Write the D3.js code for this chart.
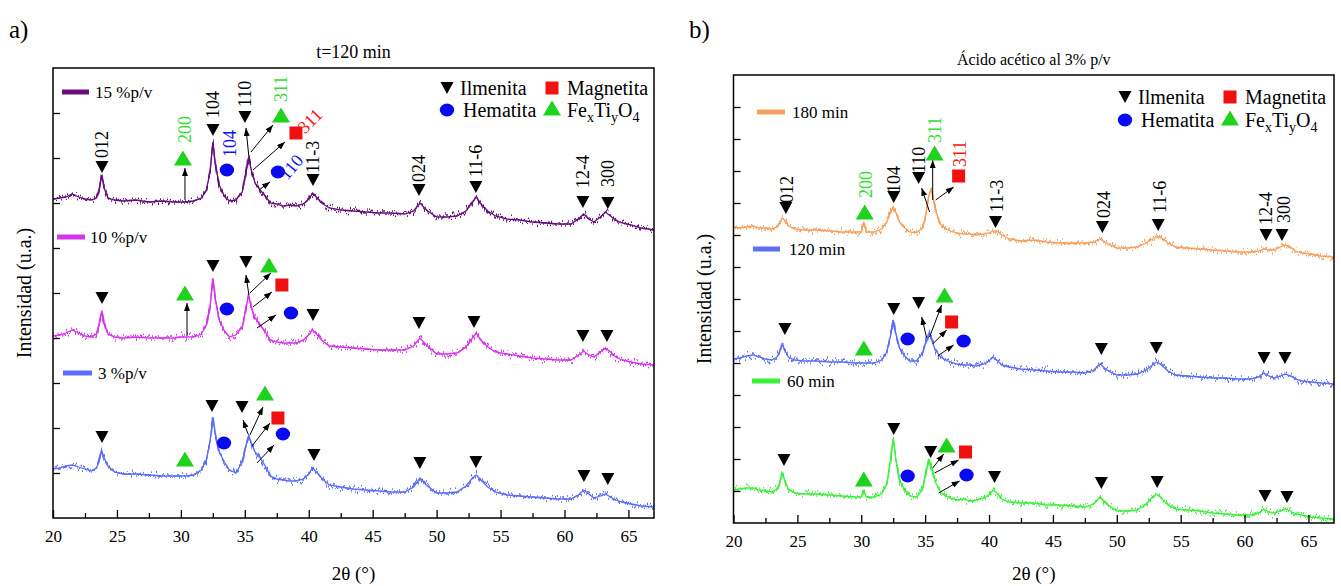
<!DOCTYPE html>
<html><head><meta charset="utf-8">
<script src="https://cdn.jsdelivr.net/npm/d3@7"></script>
<style>
body{margin:0;background:#fff}
svg{display:block}
</style>
</head><body>
<svg id="c" width="1341" height="586" style="font-family:'Liberation Serif','DejaVu Serif','Noto Serif',serif"></svg>
<script>
// ---------- DATA ----------
const twoTheta = [20.0,20.5,21.0,21.5,22.0,22.5,23.0,23.4,23.6,23.8, 24.0,24.3,24.8,25.5,26.5,27.5,28.5,29.5,30.0,30.2,
 30.4,31.0,31.6,32.0,32.3,32.5,32.7,33.0,33.4,33.8, 34.3,34.8,35.1,35.3,35.5,35.8,36.2,36.6,37.0,37.5,
 38.0,38.5,39.0,39.6,40.0,40.3,40.6,41.0,41.6,42.5, 43.5,44.5,45.5,46.5,47.5,48.2,48.7,49.2,50.0,50.8,
 51.6,52.3,52.8,53.1,53.4,54.0,54.6,55.5,56.5,57.5, 58.5,59.5,60.5,61.1,61.5,61.9,62.3,62.8,63.2,63.6,
 64.0,64.5,65.2,66.0,67.0];

// panel a) t=120 min (stacked intensities, a.u.)
const int15 = [319,320,321,324,321,319,318,320,328,343, 330,320,318,317,318,316,317,316,316,316,
 316,317,320,328,348,376,353,333,322,317, 318,326,346,361,348,335,328,322,315,314,
 312,313,312,314,319,325,321,315,310,308, 307,306,305,305,304,307,315,308,301,301,
 302,307,316,321,315,307,302,299,298,296, 295,294,294,299,304,299,296,301,306,302,
 298,295,293,290,288];
const int10 = [182,183,185,188,185,182,181,184,193,207, 194,184,181,180,181,180,180,180,181,181,
 181,181,184,193,213,240,218,198,187,181, 183,191,210,223,211,200,193,186,178,176,
 175,175,175,178,183,188,184,178,172,171, 170,169,168,168,168,172,180,173,164,164,
 165,171,180,185,179,171,166,164,162,160, 159,158,158,163,167,163,161,166,170,166,
 161,158,156,154,153];
const int3 = [49,50,52,53,51,49,47,50,56,68, 60,52,46,44,44,43,42,42,42,42,
 42,43,48,58,78,101,83,66,56,48, 45,56,73,83,75,66,60,52,42,39,
 38,37,37,39,44,50,46,40,33,31, 29,28,27,26,26,31,40,33,25,25,
 26,32,40,43,39,31,26,23,22,21, 20,19,19,23,28,24,20,22,24,21,
 18,16,14,12,11];

// panel b) acetic acid 3% p/v
const int180 = [296,295,296,297,295,295,294,296,300,305, 303,297,294,293,293,292,291,291,291,301,
 291,291,294,301,311,316,311,301,295,291, 290,295,311,328,334,313,299,294,292,290,
 289,289,288,289,290,292,292,288,284,282, 283,281,280,280,280,281,284,280,275,275,
 276,280,284,286,286,280,276,275,274,273, 272,271,271,272,274,273,273,276,278,275,
 272,270,269,267,266];
const int120 = [164,165,167,168,166,164,163,166,171,179, 173,166,163,162,162,161,161,160,160,160,
 160,160,163,171,188,203,190,175,167,162, 162,170,183,190,183,173,166,163,161,159,
 158,158,157,159,162,166,163,158,156,154, 153,152,151,151,150,153,159,153,148,148,
 149,153,158,161,159,152,148,147,146,145, 145,144,144,146,150,147,145,147,149,147,
 144,142,141,140,139];
const int60 = [33,34,35,35,33,32,31,34,40,50, 43,34,30,29,29,28,27,26,26,32,
 26,26,29,39,63,85,65,43,33,27, 26,33,53,64,55,41,31,27,25,23,
 24,22,23,25,28,33,30,24,21,20, 20,18,18,17,16,19,26,19,12,12,
 13,19,26,29,26,18,14,13,12,10, 9,8,8,10,14,11,10,12,14,12,
 9,8,6,5,4];

const seriesNamesA = ["15 %p/v","10 %p/v","3 %p/v"];
const seriesNamesB = ["180 min","120 min","60 min"];
const xTicks = [20,25,30,35,40,45,50,55,60,65];
const xMinorTicks = [22.5,27.5,32.5,37.5,42.5,47.5,52.5,57.5,62.5];
const phaseNames = ["Ilmenita","Magnetita","Hematita"];

// phase markers: [phase, 2θ, height]
const markersA = [
 ['I',23.83,351],['F',30.16,360],['I',32.51,388],['H',33.6,348],['I',35.01,401],['F',37.83,403],['M',39.0,385],['H',37.59,346],['I',40.33,338],['I',48.62,328],['I',53.07,331],['I',61.44,316],['I',63.39,315],
 ['I',23.83,220],['F',30.32,225],['I',32.51,252],['H',33.6,209],['I',35.09,256],['F',36.89,253],['M',37.9,233],['H',38.61,205],['I',40.33,203],['I',48.62,195],['I',52.92,196],['I',61.44,182],['I',63.32,182],
 ['I',23.83,81],['F',30.32,59],['I',32.43,112],['H',33.37,75],['I',34.78,111],['F',36.58,125],['M',37.59,100],['H',37.98,84],['I',40.41,63],['I',48.69,55],['I',53.07,56],['I',61.52,42],['I',63.39,39]
];
const labelsA = [
 ['012',23.83,360,'k',-90],['200',30.32,375,'g',-90],['104',32.51,400,'k',-90],['104',33.83,361,'b',-90],['110',35.01,411,'k',-90],['311',37.83,416,'g',-90],['311',39.35,388,'r',-45],['110',37.95,341,'b',-50],['11-3',40.33,345,'k',-90],['024',48.62,336,'k',-90],['11-6',53.07,341,'k',-90],['12-4',61.44,330,'k',-90],['300',63.39,331,'k',-90]
];
const arrowsA = [
 [30.32,318,30.32,350],[35.32,361,35.09,390],[35.48,366,37.2,393],[35.64,348,38.14,376],[36.1,328,36.97,336],
 [30.48,182,30.48,215],[35.32,223,35.09,243],[35.4,225,37.04,245],[35.64,211,37.12,226],[35.95,190,37.44,203],
 [35.25,84,34.86,98],[35.4,83,36.42,111],[35.56,72,36.97,95],[35.95,55,37.28,73]
];
const markersB = [
 ['I',24.1,315],['F',30.27,311],['I',32.54,326],['I',34.49,345],['F',35.74,370],['M',37.62,347],['I',40.51,301],['I',48.87,296],['I',53.24,298],['I',61.68,288],['I',62.93,288],
 ['I',24.02,194],['F',30.2,175],['I',32.54,214],['H',33.63,184],['I',34.49,220],['F',36.52,228],['M',37.07,201],['H',38.01,182],['I',48.79,174],['I',53.09,175],['I',61.52,165],['I',63.16,165],
 ['I',23.95,63],['F',30.2,44],['I',32.54,94],['H',33.63,47],['I',35.43,71],['F',36.68,78],['M',38.16,71],['H',38.24,48],['I',40.43,46],['I',48.79,40],['I',53.16,41],['I',61.6,27],['I',63.32,26]
];
const labelsB = [
 ['012',24.16,320,'k',-90],['200',30.35,325,'g',-90],['104',32.54,330,'k',-90],['110',34.49,350,'k',-90],['311',35.74,380,'g',-90],['311',37.7,356,'r',-90],['11-3',40.58,311,'k',-90],['024',48.95,305,'k',-90],['11-6',53.32,310,'k',-90],['12-4',61.68,298,'k',-90],['300',63.09,300,'k',-90]
];
const arrowsB = [
 [35.35,311,34.73,335],[35.59,323,35.59,363],[35.82,323,37.23,336],
 [35.12,185,34.73,206],[35.35,186,36.29,218],[35.59,179,36.68,193],[35.98,167,37.23,178],
 [35.59,55,36.45,69],[35.74,50,37.62,63],[36.05,30,37.7,42]
];

// ---------- STYLE ----------
const FONT = "'Liberation Serif','DejaVu Serif','Noto Serif',serif";
const phaseColor = {I:'#000000', M:'#f01010', H:'#0a0af0', F:'#1ed21e'};
const labelColor = {k:'#000', g:'#33dd33', b:'#1212f0', r:'#ff1515'};

const svg = d3.select('#c');
const defs = svg.append('defs');
const flt = defs.append('filter').attr('id','noise').attr('filterUnits','userSpaceOnUse')
  .attr('x',0).attr('y',0).attr('width',1341).attr('height',586);
flt.append('feTurbulence').attr('type','fractalNoise').attr('baseFrequency','0.8 0.04')
  .attr('numOctaves',2).attr('seed',5).attr('result','t');
flt.append('feColorMatrix').attr('in','t').attr('type','matrix')
  .attr('values','0 0 0 0 0.5  0 1 0 0 0  0 0 0 0 0.5  0 0 0 0 1').attr('result','m');
flt.append('feDisplacementMap').attr('in','SourceGraphic').attr('in2','m').attr('scale',14)
  .attr('xChannelSelector','R').attr('yChannelSelector','G');

defs.append('marker').attr('id','ah').attr('viewBox','0 0 8 6').attr('refX',8).attr('refY',3)
  .attr('markerWidth',8).attr('markerHeight',6).attr('markerUnits','userSpaceOnUse').attr('orient','auto')
  .append('path').attr('d','M0,0L8,3L0,6z').attr('fill','#000');

function txt(g){ return g.append('text').style('font-family',FONT).attr('fill','#000'); }

function drawMarker(g, type, cx, cy){
  if(type==='I'){
    const w=13,h=12;
    g.append('path').attr('d',`M${cx-w/2},${cy-h/2}L${cx+w/2},${cy-h/2}L${cx},${cy+h/2}Z`).attr('fill',phaseColor.I);
  } else if(type==='F'){
    const w=18,h=15;
    g.append('path').attr('d',`M${cx-w/2},${cy+h/2}L${cx+w/2},${cy+h/2}L${cx},${cy-h/2}Z`).attr('fill',phaseColor.F);
  } else if(type==='M'){
    const s=13;
    g.append('rect').attr('x',cx-s/2).attr('y',cy-s/2).attr('width',s).attr('height',s).attr('fill',phaseColor.M);
  } else {
    g.append('ellipse').attr('cx',cx).attr('cy',cy).attr('rx',7.2).attr('ry',6.5).attr('fill',phaseColor.H);
  }
}

function panel(cfg){
  const g = svg.append('g');
  const x = d3.scaleLinear().domain([20,67]).range(cfg.xr);
  const y = d3.scaleLinear().domain(cfg.yd).range(cfg.yr);
  const [x0,x1] = cfg.xr, [yb,yt] = cfg.yr;

  const cid = 'clip'+cfg.id;
  defs.append('clipPath').attr('id',cid).append('rect')
    .attr('x',x0).attr('y',yt).attr('width',x1-x0).attr('height',yb-yt);

  // curves
  const line = d3.line().x((d,i)=>x(twoTheta[i])).y(d=>y(d));
  const cg = g.append('g').attr('clip-path',`url(#${cid})`);
  cfg.series.forEach(s=>{
    cg.append('path').attr('d',line(s.values)).attr('fill','none').attr('stroke',s.color).attr('stroke-width',1.3);
    cg.append('path').attr('d',line(s.values)).attr('fill','none').attr('stroke',s.color).attr('stroke-width',1.5)
      .attr('filter','url(#noise)');
  });

  // axes
  const ax1 = g.append('g').attr('transform',`translate(0,${yb})`)
    .call(d3.axisBottom(x).tickValues(xMinorTicks).tickSize(-5).tickFormat(''));
  const ax2 = g.append('g').attr('transform',`translate(0,${yb})`)
    .call(d3.axisBottom(x).tickValues(xTicks).tickSize(-8).tickPadding(12).tickFormat(d3.format('d')));
  const ay = g.append('g').attr('transform',`translate(${x0},0)`)
    .call(d3.axisLeft(y).tickValues(cfg.yTicks).tickSize(-7).tickFormat(''));
  [ax1,ax2,ay].forEach(a=>{ a.attr('font-family',null); a.select('.domain').remove(); a.selectAll('line').attr('stroke','#000').attr('stroke-width',1.3); });
  ax2.selectAll('text').attr('font-size',17).style('font-family',FONT).attr('fill','#000');
  g.append('rect').attr('x',x0).attr('y',yt).attr('width',x1-x0).attr('height',yb-yt)
    .attr('fill','none').attr('stroke','#000').attr('stroke-width',1.5);

  // arrows
  cfg.arrows.forEach(a=>{
    g.append('line').attr('x1',x(a[0])).attr('y1',y(a[1])).attr('x2',x(a[2])).attr('y2',y(a[3]))
      .attr('stroke','#000').attr('stroke-width',1).attr('marker-end','url(#ah)');
  });
  // markers
  cfg.markers.forEach(m=>drawMarker(g,m[0],x(m[1]),y(m[2])));
  // labels
  cfg.labels.forEach(l=>{
    txt(g).attr('transform',`translate(${x(l[1])},${y(l[2])}) rotate(${l[4]})`)
      .attr('dy','0.35em').attr('font-size',18).attr('fill',labelColor[l[3]]).text(l[0]);
  });

  // series legend
  cfg.series.forEach((s,i)=>{
    const p = cfg.seriesLegend[i];
    g.append('line').attr('x1',p[0]).attr('x2',p[1]).attr('y1',p[2]).attr('y2',p[2])
      .attr('stroke',s.color).attr('stroke-width',5);
    txt(g).attr('x',p[3]).attr('y',p[2]+6).attr('font-size',17).text(s.name);
  });

  // phase legend
  const L = cfg.phaseLegend;
  drawMarker(g,'I',L[0],L[2]); drawMarker(g,'M',L[1],L[2]);
  drawMarker(g,'H',L[0],L[3]); drawMarker(g,'F',L[1],L[3]-2);
  txt(g).attr('x',L[0]+13).attr('y',L[2]+7).attr('font-size',20).text(phaseNames[0]);
  txt(g).attr('x',L[1]+15).attr('y',L[2]+7).attr('font-size',20).text(phaseNames[1]);
  txt(g).attr('x',L[0]+16).attr('y',L[3]+7).attr('font-size',20).text(phaseNames[2]);
  const ft = txt(g).attr('x',L[1]+15).attr('y',L[3]+7).attr('font-size',20);
  ft.append('tspan').text('Fe');
  ft.append('tspan').attr('font-size',14).attr('dy',5).text('x');
  ft.append('tspan').attr('dy',-5).text('Ti');
  ft.append('tspan').attr('font-size',14).attr('dy',5).text('y');
  ft.append('tspan').attr('dy',-5).text('O');
  ft.append('tspan').attr('font-size',14).attr('dy',5).text('4');

  // titles
  txt(g).attr('x',cfg.tag[0]).attr('y',cfg.tag[1]).attr('font-size',25).text(cfg.tagText);
  txt(g).attr('x',(x0+x1)/2).attr('y',cfg.titleY).attr('text-anchor','middle')
    .attr('font-size',cfg.titleSize).text(cfg.title);
  txt(g).attr('x',(x0+x1)/2).attr('y',580).attr('text-anchor','middle').attr('font-size',19).text('2θ (°)');
  txt(g).attr('transform',`translate(${cfg.ylabX},${(yb+yt)/2}) rotate(-90)`)
    .attr('text-anchor','middle').attr('font-size',20).text('Intensidad (u.a.)');
}

panel({
  id:'A', xr:[53,654], yr:[518,68], yd:[0,450],
  yTicks:[45,90,135,180,225,270,315,360,405],
  series:[{name:seriesNamesA[0],values:int15,color:'#680f7d'},
          {name:seriesNamesA[1],values:int10,color:'#d535ec'},
          {name:seriesNamesA[2],values:int3,color:'#5a6cf8'}],
  seriesLegend:[[62,89,92,95],[57,85,237,90],[63,92,373,98]],
  phaseLegend:[447,552,88,110],
  markers:markersA, labels:labelsA, arrows:arrowsA,
  tag:[9,38], tagText:'a)', title:'t=120 min', titleY:58, titleSize:18, ylabX:31
});
panel({
  id:'B', xr:[733.5,1334], yr:[523,75], yd:[0,448],
  yTicks:[32,64,96,128,160,192,224,256,288,320,352,384,416],
  series:[{name:seriesNamesB[0],values:int180,color:'#f5a05e'},
          {name:seriesNamesB[1],values:int120,color:'#5c6ef5'},
          {name:seriesNamesB[2],values:int60,color:'#3cf03c'}],
  seriesLegend:[[757,785,112,792],[753,780,249,789],[752,780,381,787]],
  phaseLegend:[1125,1230,97,120],
  markers:markersB, labels:labelsB, arrows:arrowsB,
  tag:[689,38], tagText:'b)', title:'Ácido acético al 3% p/v', titleY:65, titleSize:16, ylabX:711
});
</script>
</body></html>
